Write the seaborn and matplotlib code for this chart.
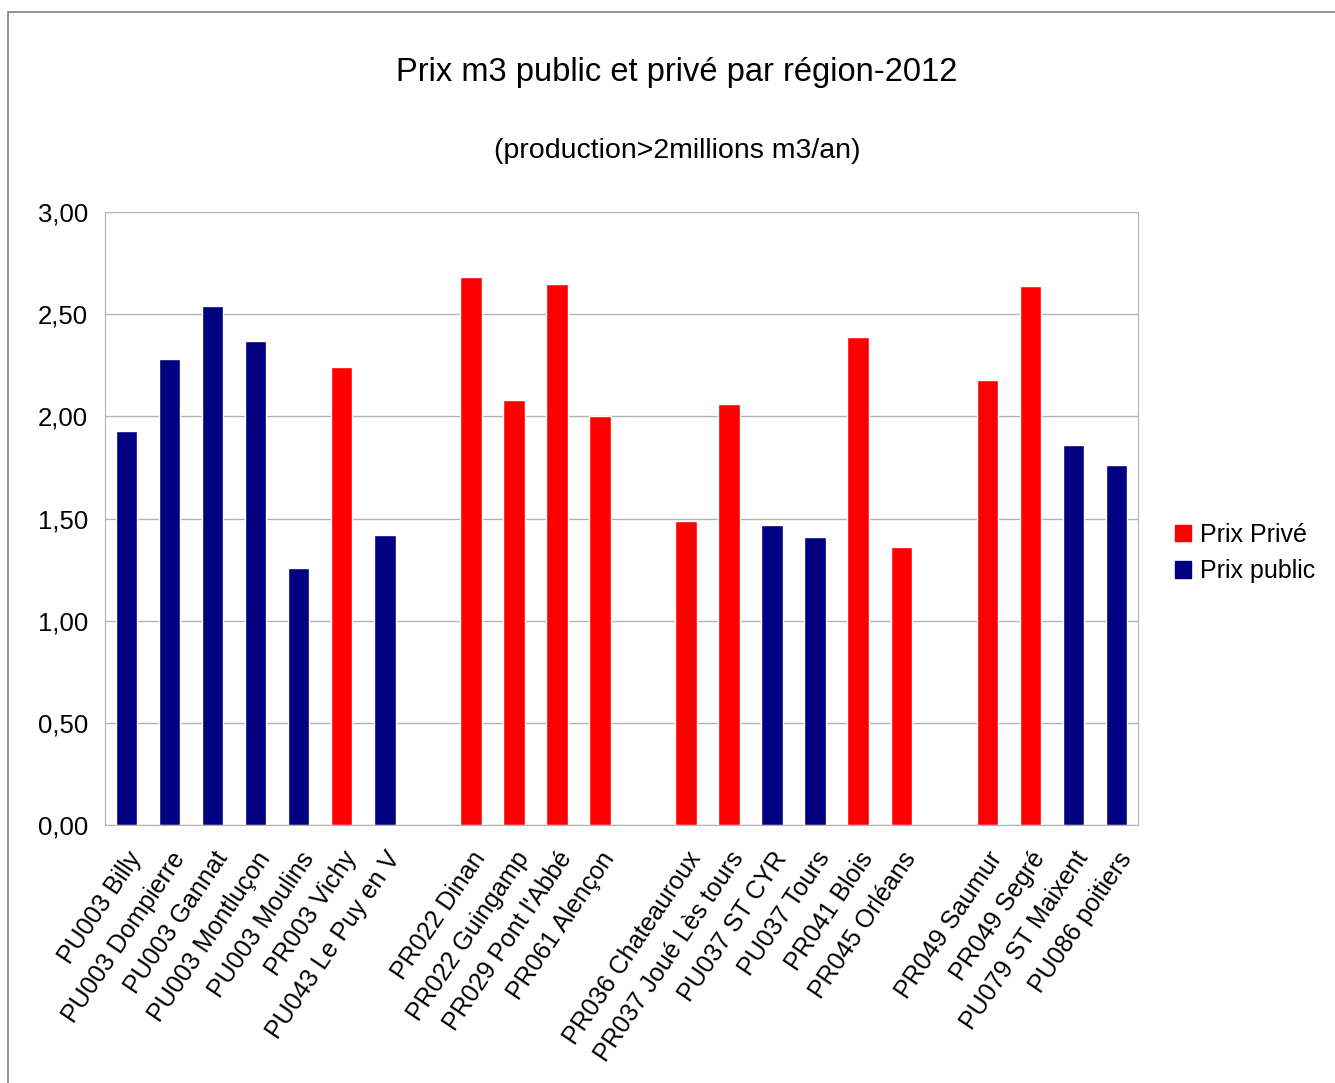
import numpy as np
import pandas as pd
import matplotlib.pyplot as plt
import matplotlib.patches as mpatches
import seaborn as sns

# Data ("" / " " / "  " are the empty gap slots)
slots = ['PU003 Billy', 'PU003 Dompierre', 'PU003 Gannat', 'PU003 Montluçon',
         'PU003 Moulins', 'PR003 Vichy', 'PU043 Le Puy en V', '',
         'PR022 Dinan', 'PR022 Guingamp', "PR029 Pont l'Abbé", 'PR061 Alençon', ' ',
         'PR036 Chateauroux', 'PR037 Joué Lès tours', 'PU037 ST CYR', 'PU037 Tours',
         'PR041 Blois', 'PR045 Orléans', '  ',
         'PR049 Saumur', 'PR049 Segré', 'PU079 ST Maixent', 'PU086 poitiers']
sites = [s for s in slots if s.strip()]
prices = [1.93, 2.28, 2.54, 2.37, 1.26, 2.24, 1.42,
          2.68, 2.08, 2.65, 2.00,
          1.49, 2.06, 1.47, 1.41, 2.39, 1.36,
          2.18, 2.64, 1.86, 1.76]
kinds = ['Prix Privé' if s.startswith('PR') else 'Prix public' for s in sites]

df = pd.DataFrame({'site': sites, 'prix': prices, 'type': kinds})
colors = {'Prix Privé': '#ff0000', 'Prix public': '#000080'}

sns.set_style('white')
plt.rcParams['font.family'] = ['Liberation Sans', 'DejaVu Sans']
plt.rcParams['text.color'] = 'black'
plt.rcParams['xtick.color'] = 'black'
plt.rcParams['ytick.color'] = 'black'

fig = plt.figure(figsize=(13.35, 10.83), dpi=100)
ax = fig.add_axes([105 / 1335, 1 - 825 / 1083, (1138 - 105) / 1335, (825 - 212) / 1083])

sns.barplot(data=df, x='site', y='prix', hue='type', order=slots,
            palette=colors, dodge=False, width=0.5, ax=ax, legend=False,
            saturation=1)

ax.set_xlim(-0.5, len(slots) - 0.5)
ax.set_ylim(0, 3)
ax.set_yticks(np.arange(0, 3.01, 0.5))
ax.set_yticklabels([f'{v:.2f}'.replace('.', ',') for v in np.arange(0, 3.01, 0.5)], fontsize=18.5)
ax.yaxis.grid(True, color='#b3b3b3', lw=1)
ax.set_axisbelow(True)

ax.set_xticks(range(len(slots)))
ax.set_xticklabels(slots, rotation=56, ha='right', rotation_mode='anchor', fontsize=18)
ax.set_xticks(np.arange(-0.5, len(slots), 1), minor=True)
ax.tick_params(axis='x', which='major', length=0, pad=16, colors='black')
ax.tick_params(axis='x', which='minor', length=8, color='#b3b3b3', width=1, direction='out')
ax.tick_params(axis='y', length=8, color='#b3b3b3', width=1, direction='out', pad=4,
               labelcolor='black')
ax.set_xlabel('')
ax.set_ylabel('')

for side in ['left', 'right', 'bottom']:
    ax.spines[side].set_visible(True)
    ax.spines[side].set_color('#b3b3b3')
ax.spines['top'].set_visible(False)

handles = [mpatches.Patch(color=colors[k], label=k) for k in ['Prix Privé', 'Prix public']]
fig.legend(handles=handles, loc='center left', bbox_to_anchor=(1152 / 1335, 1 - 553 / 1083),
           frameon=False, fontsize=18, handlelength=0.65, handleheight=0.65,
           handletextpad=0.35, labelspacing=0.5)

fig.text(677 / 1335, 1 - 72 / 1083, 'Prix m3 public et privé par région-2012',
         ha='center', va='center', fontsize=23.5)
fig.text(677 / 1335, 1 - 151 / 1083, '(production>2millions m3/an)',
         ha='center', va='center', fontsize=20.5)

fig.patches.append(mpatches.Rectangle((8 / 1335, -0.05), 1.1, 1 - 12 / 1083 + 0.05,
                                      transform=fig.transFigure, fill=False,
                                      edgecolor='#808080', lw=1.2))

fig.savefig('out.png', dpi=100)
